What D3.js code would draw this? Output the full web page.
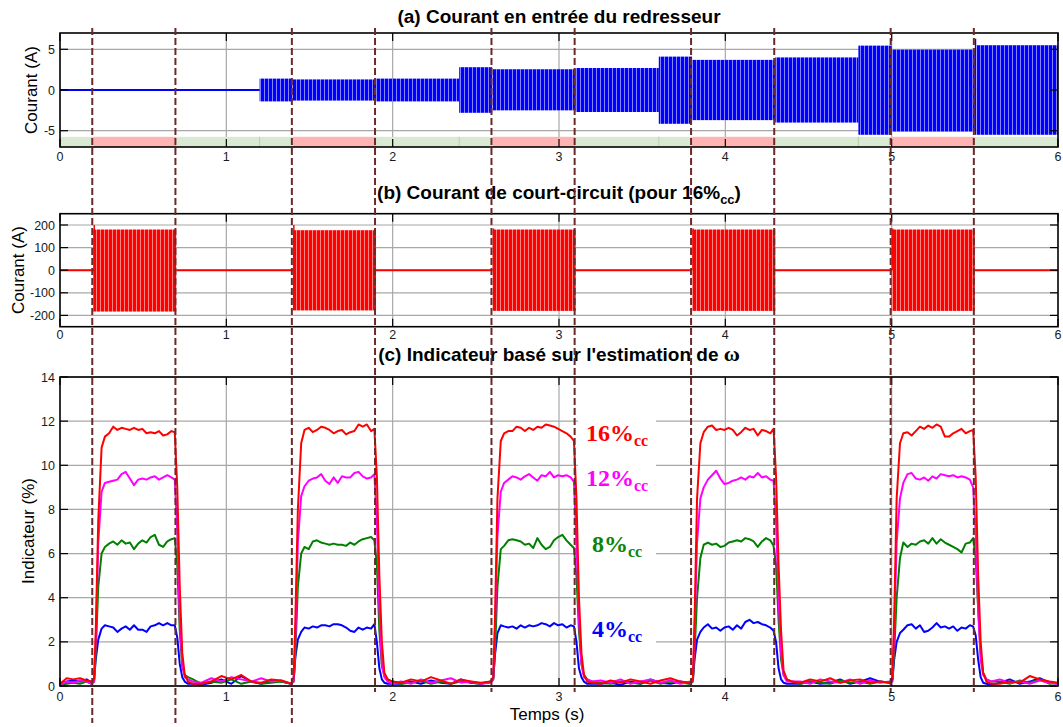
<!DOCTYPE html>
<html><head><meta charset="utf-8">
<script src="https://cdn.jsdelivr.net/npm/d3@7"></script>
<style>body{margin:0;background:#fff} svg{display:block}</style>
</head><body><svg id="c" width="1063" height="727"></svg>
<script>
// ---------------- DATA ----------------
const xTicks = [0, 1, 2, 3, 4, 5, 6];
const yTicksA = [-5, 0, 5];
const yTicksB = [-200, -100, 0, 100, 200];
const yTicksC = [0, 2, 4, 6, 8, 10, 12, 14];

const faultStarts = [0.2, 1.4, 2.6, 3.8, 5.0];
const faultEnds = [0.7, 1.9, 3.1, 4.3, 5.5];
const stripBounds = [0, 0.2, 0.7, 1.4, 1.9, 2.6, 3.1, 3.8, 4.3, 5.0, 5.5, 6.0];
const stripState = ["sain", "defaut", "sain", "defaut", "sain", "defaut", "sain", "defaut", "sain", "defaut", "sain"];
const loadSteps = [1.2, 2.4, 3.6, 4.8];

// (a) rectifier input current envelope per segment
const courantBounds = [0, 1.2, 1.4, 1.9, 2.4, 2.6, 3.1, 3.6, 3.8, 4.3, 4.8, 5.0, 5.5, 5.51, 6.0];
const courantMax = [0, 1.4, 1.3, 1.4, 2.8, 2.55, 2.7, 4.1, 3.7, 4.0, 5.45, 4.95, 6.3, 5.5];
const courantMin = [0, -1.4, -1.3, -1.4, -2.8, -2.5, -2.7, -4.15, -3.7, -4.0, -5.5, -5.1, -5.5, -5.5];

// (b) short-circuit current envelope per fault
const ccMax = [180, 177, 180, 180, 180];
const ccMin = [-183, -178, -180, -180, -180];
const ccSpike = [200, 200, 185, 185, 185];

// (c) sampling grid (time = fault start + offset)
const startTimes = [0, 0.04, 0.08, 0.12, 0.16, 0.19];
const windowOffsets = [0.005, 0.015, 0.03, 0.05, 0.07, 0.095, 0.12, 0.145, 0.17, 0.195, 0.22, 0.245, 0.27, 0.295,
  0.32, 0.345, 0.37, 0.395, 0.42, 0.445, 0.47, 0.49, 0.505, 0.52, 0.535, 0.55, 0.57, 0.6];
const gapOffsets = [0.65, 0.71, 0.77, 0.83, 0.89, 0.95, 1.01, 1.07, 1.13, 1.19];
const endOffsets = [0.65, 0.71, 0.77, 0.83, 0.89, 0.95, 1.0];

const indic16 = [
  0.1, 0.35, 0.3, 0.35, 0.25, 0.2,
  0.3, 2.5, 7.5, 10.8, 11.3, 11.45, 11.75, 11.6, 11.7, 11.65, 11.6, 11.7, 11.6, 11.65, 11.45, 11.5, 11.45, 11.55, 11.35, 11.4, 11.55, 11.5, 9.0, 4.5, 1.5, 0.5, 0.2, 0.1,
  0.1, 0.2, 0.45, 0.3, 0.5, 0.2, 0.15, 0.3, 0.25, 0.1,
  0.4, 3.0, 8.0, 11.0, 11.6, 11.7, 11.5, 11.6, 11.75, 11.7, 11.6, 11.45, 11.55, 11.6, 11.4, 11.5, 11.55, 11.85, 11.75, 11.85, 11.55, 11.65, 9.5, 5.0, 2.0, 0.6, 0.3, 0.2,
  0.15, 0.3, 0.2, 0.4, 0.25, 0.1, 0.3, 0.2, 0.15, 0.2,
  0.4, 3.0, 8.5, 11.1, 11.45, 11.55, 11.55, 11.75, 11.7, 11.55, 11.7, 11.6, 11.75, 11.7, 11.85, 11.8, 11.75, 11.65, 11.55, 11.45, 11.3, 11.1, 8.5, 4.0, 1.5, 0.5, 0.2, 0.15,
  0.1, 0.25, 0.15, 0.3, 0.2, 0.1, 0.25, 0.35, 0.2, 0.15,
  0.3, 3.0, 8.5, 11.0, 11.5, 11.75, 11.8, 11.6, 11.65, 11.6, 11.7, 11.6, 11.35, 11.5, 11.7, 11.6, 11.65, 11.35, 11.6, 11.55, 11.45, 11.65, 9.5, 5.5, 2.5, 0.7, 0.3, 0.2,
  0.15, 0.3, 0.2, 0.35, 0.15, 0.25, 0.3, 0.15, 0.2, 0.15,
  0.4, 3.0, 8.5, 11.0, 11.45, 11.5, 11.35, 11.55, 11.75, 11.65, 11.8, 11.7, 11.85, 11.75, 11.3, 11.3, 11.45, 11.55, 11.65, 11.45, 11.55, 11.6, 9.5, 5.0, 2.0, 0.6, 0.2, 0.1,
  0.1, 0.2, 0.15, 0.45, 0.3, 0.2, 0.15
];
const indic12 = [
  0.05, 0.2, 0.15, 0.25, 0.2, 0.1,
  0.2, 2.0, 6.5, 8.8, 9.2, 9.25, 9.3, 9.35, 9.6, 9.7, 9.4, 9.1, 9.35, 9.4, 9.35, 9.45, 9.5, 9.35, 9.45, 9.55, 9.45, 9.35, 7.0, 3.0, 1.0, 0.4, 0.3, 0.2,
  0.15, 0.35, 0.2, 0.4, 0.3, 0.2, 0.35, 0.2, 0.25, 0.1,
  0.2, 2.0, 6.5, 8.6, 9.05, 9.3, 9.4, 9.45, 9.6, 9.3, 9.15, 9.45, 9.2, 9.5, 9.45, 9.45, 9.65, 9.7, 9.5, 9.4, 9.45, 9.6, 7.5, 3.5, 1.0, 0.4, 0.2, 0.1,
  0.2, 0.1, 0.3, 0.15, 0.25, 0.35, 0.15, 0.2, 0.1, 0.15,
  0.3, 2.5, 6.8, 8.8, 9.2, 9.35, 9.5, 9.45, 9.35, 9.5, 9.6, 9.45, 9.3, 9.55, 9.5, 9.7, 9.45, 9.55, 9.5, 9.55, 9.45, 9.25, 6.5, 3.0, 1.0, 0.4, 0.3, 0.2,
  0.25, 0.15, 0.3, 0.1, 0.2, 0.3, 0.15, 0.25, 0.1, 0.2,
  0.2, 2.5, 6.5, 8.5, 9.0, 9.35, 9.55, 9.75, 9.4, 9.15, 9.2, 9.3, 9.35, 9.45, 9.35, 9.5, 9.45, 9.65, 9.45, 9.5, 9.35, 9.3, 7.5, 4.0, 1.5, 0.5, 0.2, 0.2,
  0.2, 0.1, 0.3, 0.2, 0.15, 0.3, 0.1, 0.25, 0.15, 0.2,
  0.2, 2.5, 6.5, 8.5, 9.2, 9.6, 9.65, 9.4, 9.35, 9.45, 9.3, 9.5, 9.4, 9.6, 9.55, 9.5, 9.55, 9.45, 9.5, 9.45, 9.35, 9.0, 7.0, 3.5, 1.2, 0.5, 0.3, 0.2,
  0.3, 0.15, 0.2, 0.1, 0.25, 0.15, 0.1
];
const indic8 = [
  0.05, 0.1, 0.15, 0.1, 0.2, 0.1,
  0.2, 1.5, 4.5, 6.0, 6.3, 6.45, 6.55, 6.4, 6.6, 6.45, 6.5, 6.2, 6.45, 6.6, 6.5, 6.75, 6.85, 6.4, 6.3, 6.55, 6.65, 6.7, 5.5, 2.5, 0.9, 0.5, 0.4, 0.3,
  0.1, 0.2, 0.15, 0.3, 0.1, 0.2, 0.1, 0.15, 0.2, 0.1,
  0.2, 1.5, 4.5, 6.0, 6.3, 6.2, 6.55, 6.6, 6.5, 6.45, 6.4, 6.45, 6.4, 6.4, 6.35, 6.5, 6.4, 6.55, 6.65, 6.7, 6.75, 6.6, 5.5, 2.5, 0.9, 0.5, 0.3, 0.2,
  0.1, 0.15, 0.25, 0.1, 0.2, 0.1, 0.2, 0.15, 0.1, 0.2,
  0.3, 1.5, 4.5, 6.2, 6.35, 6.6, 6.65, 6.6, 6.55, 6.4, 6.45, 6.25, 6.7, 6.4, 6.2, 6.3, 6.6, 6.75, 6.85, 6.6, 6.4, 6.25, 5.0, 2.5, 1.0, 0.5, 0.3, 0.2,
  0.15, 0.1, 0.2, 0.15, 0.1, 0.25, 0.1, 0.2, 0.15, 0.1,
  0.2, 1.5, 4.0, 5.8, 6.4, 6.5, 6.4, 6.45, 6.3, 6.35, 6.5, 6.55, 6.6, 6.55, 6.7, 6.65, 6.55, 6.3, 6.55, 6.7, 6.6, 6.35, 5.5, 3.0, 1.2, 0.5, 0.3, 0.2,
  0.1, 0.2, 0.15, 0.1, 0.25, 0.15, 0.2, 0.1, 0.2, 0.15,
  0.3, 1.5, 4.0, 5.8, 6.5, 6.3, 6.45, 6.4, 6.55, 6.6, 6.45, 6.7, 6.45, 6.65, 6.5, 6.4, 6.3, 6.2, 6.05, 6.45, 6.5, 6.7, 5.8, 3.5, 1.5, 0.6, 0.3, 0.2,
  0.2, 0.1, 0.25, 0.15, 0.3, 0.1, 0.15
];
const indic4 = [
  0.1, 0.2, 0.25, 0.2, 0.3, 0.15,
  0.3, 1.2, 2.1, 2.6, 2.75, 2.7, 2.65, 2.45, 2.6, 2.7, 2.55, 2.75, 2.55, 2.55, 2.45, 2.7, 2.75, 2.85, 2.75, 2.85, 2.75, 2.75, 2.2, 1.0, 0.4, 0.2, 0.1, 0.1,
  0.05, 0.15, 0.3, 0.1, 0.45, 0.2, 0.1, 0.25, 0.2, 0.1,
  0.3, 1.3, 2.1, 2.45, 2.65, 2.6, 2.7, 2.65, 2.75, 2.75, 2.7, 2.8, 2.8, 2.75, 2.65, 2.5, 2.45, 2.65, 2.55, 2.65, 2.6, 2.8, 2.0, 0.8, 0.3, 0.15, 0.1, 0.1,
  0.1, 0.2, 0.1, 0.25, 0.15, 0.1, 0.3, 0.15, 0.1, 0.2,
  0.4, 1.4, 2.4, 2.75, 2.7, 2.65, 2.7, 2.6, 2.75, 2.65, 2.75, 2.7, 2.75, 2.85, 2.8, 2.7, 2.85, 2.75, 2.8, 2.65, 2.75, 2.7, 2.0, 0.8, 0.4, 0.2, 0.1, 0.1,
  0.1, 0.15, 0.05, 0.2, 0.1, 0.3, 0.15, 0.1, 0.2, 0.1,
  0.3, 1.2, 2.1, 2.45, 2.65, 2.8, 2.6, 2.65, 2.5, 2.65, 2.7, 2.55, 2.75, 2.6, 2.9, 3.0, 2.85, 2.9, 2.8, 2.75, 2.65, 2.5, 2.0, 0.8, 0.3, 0.15, 0.1, 0.1,
  0.1, 0.2, 0.1, 0.15, 0.3, 0.1, 0.2, 0.35, 0.2, 0.15,
  0.3, 1.2, 2.0, 2.4, 2.55, 2.75, 2.8, 2.6, 2.75, 2.45, 2.5, 2.65, 2.85, 2.65, 2.7, 2.6, 2.7, 2.5, 2.65, 2.6, 2.75, 2.7, 2.3, 1.2, 0.4, 0.15, 0.1, 0.05,
  0.15, 0.3, 0.1, 0.2, 0.35, 0.15, 0.1
];
const seriesNames = ["4%", "8%", "12%", "16%"];
const seriesColors = ["#0000ff", "#008000", "#ff00ff", "#ff0000"];

// ---------------- BUILD ----------------
const time = [...startTimes];
faultStarts.forEach((a, k) => {
  windowOffsets.forEach(o => time.push(+(a + o).toFixed(4)));
  (k < faultStarts.length - 1 ? gapOffsets : endOffsets).forEach(o => time.push(+(a + o).toFixed(4)));
});
const seriesVals = [indic4, indic8, indic12, indic16];

const svg = d3.select("#c");
svg.append("rect").attr("width", 1063).attr("height", 727).attr("fill", "#fff");
const defs = svg.append("defs");
function stripe(id, col) {
  const p = defs.append("pattern").attr("id", id).attr("patternUnits", "userSpaceOnUse")
    .attr("width", 4).attr("height", 400);
  p.append("rect").attr("width", 4).attr("height", 400).attr("fill", col);
  p.append("rect").attr("x", 0).attr("width", 0.8).attr("height", 400).attr("fill", "#fff").attr("opacity", 0.65);
}
stripe("bandBlue", "#0000ff");
stripe("bandRed", "#ff0000");

const X0 = 60, X1 = 1058;
const x = d3.scaleLinear().domain([0, 6]).range([X0, X1]);
const yA = d3.scaleLinear().domain([-7, 7]).range([147, 33]);
const yB = d3.scaleLinear().domain([-250, 250]).range([326.7, 213.7]);
const yC = d3.scaleLinear().domain([0, 14]).range([686, 377]);

const FONT = "Liberation Sans, Arial, sans-serif";
const GRID = "#a8a8a8";

function panel(y, yTicks, id) {
  const g = svg.append("g");
  const [yb, yt] = y.range();
  g.append("clipPath").attr("id", id).append("rect")
    .attr("x", X0).attr("y", yt).attr("width", X1 - X0).attr("height", yb - yt);
  g.selectAll(".gx").data(xTicks.slice(1, -1)).join("line")
    .attr("x1", d => x(d)).attr("x2", d => x(d)).attr("y1", yt).attr("y2", yb)
    .attr("stroke", GRID).attr("stroke-width", 1.2);
  g.selectAll(".gy").data(yTicks).join("line")
    .attr("x1", X0).attr("x2", X1).attr("y1", d => y(d)).attr("y2", d => y(d))
    .attr("stroke", GRID).attr("stroke-width", 1.2);
  const under = g.append("g");
  const content = g.append("g").attr("clip-path", `url(#${id})`);
  const over = g.append("g");
  return { g, under, content, over, yb, yt };
}
function frame(P, y, yTicks, xLabY) {
  const { over, yb, yt } = P;
  const L = 8;
  over.append("rect").attr("x", X0).attr("y", yt).attr("width", X1 - X0).attr("height", yb - yt)
    .attr("fill", "none").attr("stroke", "#000").attr("stroke-width", 1.6);
  xTicks.forEach(t => {
    over.append("line").attr("x1", x(t)).attr("x2", x(t)).attr("y1", yb).attr("y2", yb - L).attr("stroke", "#000").attr("stroke-width", 1.2);
    over.append("line").attr("x1", x(t)).attr("x2", x(t)).attr("y1", yt).attr("y2", yt + L).attr("stroke", "#000").attr("stroke-width", 1.2);
  });
  yTicks.forEach(v => {
    over.append("line").attr("x1", X0).attr("x2", X0 + L).attr("y1", y(v)).attr("y2", y(v)).attr("stroke", "#000").attr("stroke-width", 1.2);
    over.append("line").attr("x1", X1).attr("x2", X1 - L).attr("y1", y(v)).attr("y2", y(v)).attr("stroke", "#000").attr("stroke-width", 1.2);
  });
  over.selectAll(".xl").data(xTicks).join("text")
    .attr("x", d => x(d)).attr("y", xLabY).attr("text-anchor", "middle")
    .attr("font-family", FONT).attr("font-size", 12.5).attr("fill", "#1a1a1a").text(d => d);
  over.selectAll(".yl").data(yTicks).join("text")
    .attr("x", X0 - 5).attr("y", d => y(d) + 4.5).attr("text-anchor", "end")
    .attr("font-family", FONT).attr("font-size", 12.5).attr("fill", "#1a1a1a").text(d => d);
}

// ---------- Panel (a) ----------
const PA = panel(yA, yTicksA, "clipA");
const stripCol = { sain: "#d9ead3", defaut: "#ffb3b3" };
stripState.forEach((s, i) => {
  PA.content.append("rect").attr("x", x(stripBounds[i])).attr("width", x(stripBounds[i + 1]) - x(stripBounds[i]))
    .attr("y", yA(-5.75)).attr("height", yA(-7) - yA(-5.75)).attr("fill", stripCol[s]);
});
loadSteps.forEach(t => {
  PA.content.append("line").attr("x1", x(t)).attr("x2", x(t)).attr("y1", yA(-5.75)).attr("y2", yA(-7))
    .attr("stroke", "#b5d3aa").attr("stroke-width", 1);
});
PA.content.append("line").attr("x1", x(0)).attr("x2", x(courantBounds[1])).attr("y1", yA(0)).attr("y2", yA(0))
  .attr("stroke", "#0000ff").attr("stroke-width", 2);
courantMax.forEach((mx, i) => {
  if (mx === 0) return;
  PA.content.append("rect").attr("x", x(courantBounds[i])).attr("width", x(courantBounds[i + 1]) - x(courantBounds[i]))
    .attr("y", yA(mx)).attr("height", yA(courantMin[i]) - yA(mx)).attr("fill", "url(#bandBlue)");
});
frame(PA, yA, yTicksA, 161);

// ---------- Panel (b) ----------
const PB = panel(yB, yTicksB, "clipB");
PB.content.append("line").attr("x1", x(0)).attr("x2", x(6)).attr("y1", yB(0)).attr("y2", yB(0))
  .attr("stroke", "#ff0000").attr("stroke-width", 2);
faultStarts.forEach((a, k) => {
  PB.content.append("rect").attr("x", x(a)).attr("width", x(faultEnds[k]) - x(a))
    .attr("y", yB(ccMax[k])).attr("height", yB(ccMin[k]) - yB(ccMax[k])).attr("fill", "url(#bandRed)");
  PB.content.append("line").attr("x1", x(a) + 1).attr("x2", x(a) + 1).attr("y1", yB(ccSpike[k])).attr("y2", yB(0))
    .attr("stroke", "#ff0000").attr("stroke-width", 1.5);
});
frame(PB, yB, yTicksB, 338.5);

// ---------- Panel (c) ----------
const PC = panel(yC, yTicksC, "clipC");
const labelSpec = [
  { name: "16%", col: "#ff0000", tx: 586, by: 441, box: [578, 414, 78, 36] },
  { name: "12%", col: "#ff00ff", tx: 586, by: 486, box: [578, 458, 78, 38] },
  { name: "8%", col: "#0a850a", tx: 592, by: 552, box: [578, 526, 78, 38] },
  { name: "4%", col: "#0000ff", tx: 592, by: 637, box: [578, 611, 78, 38] }
];
labelSpec.forEach(l => {
  PC.under.append("rect").attr("x", l.box[0]).attr("y", l.box[1]).attr("width", l.box[2]).attr("height", l.box[3]).attr("fill", "#fff");
});
const line = d3.line().x((d, i) => x(time[i])).y(d => yC(d));
seriesVals.forEach((vals, s) => {
  PC.content.append("path").attr("d", line(vals)).attr("fill", "none")
    .attr("stroke", seriesColors[s]).attr("stroke-width", 2).attr("stroke-linejoin", "round");
});
frame(PC, yC, yTicksC, 701);
labelSpec.forEach(l => {
  const t = svg.append("text").attr("x", l.tx).attr("y", l.by).attr("fill", l.col)
    .attr("font-family", "Liberation Serif, Times New Roman, serif").attr("font-weight", "bold").attr("font-size", 24);
  t.append("tspan").text(l.name);
  t.append("tspan").attr("font-size", 16).attr("dy", 5).text("cc");
});

// ---------- titles & axis labels ----------
const TS = 19;
svg.append("text").attr("x", 559).attr("y", 23).attr("text-anchor", "middle")
  .attr("font-family", FONT).attr("font-weight", "bold").attr("font-size", TS).text("(a) Courant en entrée du redresseur");
const tb = svg.append("text").attr("x", 559).attr("y", 199).attr("text-anchor", "middle")
  .attr("font-family", FONT).attr("font-weight", "bold").attr("font-size", TS);
tb.append("tspan").text("(b) Courant de court-circuit (pour 16%");
tb.append("tspan").attr("font-size", 13).attr("dy", 5).text("cc");
tb.append("tspan").attr("dy", -5).text(")");
const tc = svg.append("text").attr("x", 559).attr("y", 361).attr("text-anchor", "middle")
  .attr("font-family", FONT).attr("font-weight", "bold").attr("font-size", TS);
tc.append("tspan").text("(c) Indicateur basé sur l'estimation de ");
tc.append("tspan").attr("font-family", "Liberation Serif, serif").attr("font-size", 22).text("ω");

function ylab(txt, xx, yy) {
  svg.append("text").attr("transform", `translate(${xx},${yy}) rotate(-90)`).attr("text-anchor", "middle")
    .attr("font-family", FONT).attr("font-size", 17).attr("fill", "#000").text(txt);
}
ylab("Courant (A)", 37, 90);
ylab("Courant (A)", 24, 270);
ylab("Indicateur (%)", 34, 531);
svg.append("text").attr("x", 547).attr("y", 720).attr("text-anchor", "middle")
  .attr("font-family", FONT).attr("font-size", 17).text("Temps (s)");

// ---------- fault markers (dashed) ----------
const dashed = faultStarts.flatMap((a, k) => [a, faultEnds[k]]);
dashed.forEach((t, i) => {
  svg.append("line").attr("x1", x(t) - 1).attr("x2", x(t) - 1).attr("y1", 28).attr("y2", i < 3 ? 723 : 692)
    .attr("stroke", "#6b2a2a").attr("stroke-width", 2).attr("stroke-dasharray", "7,3");
});
</script></body></html>
